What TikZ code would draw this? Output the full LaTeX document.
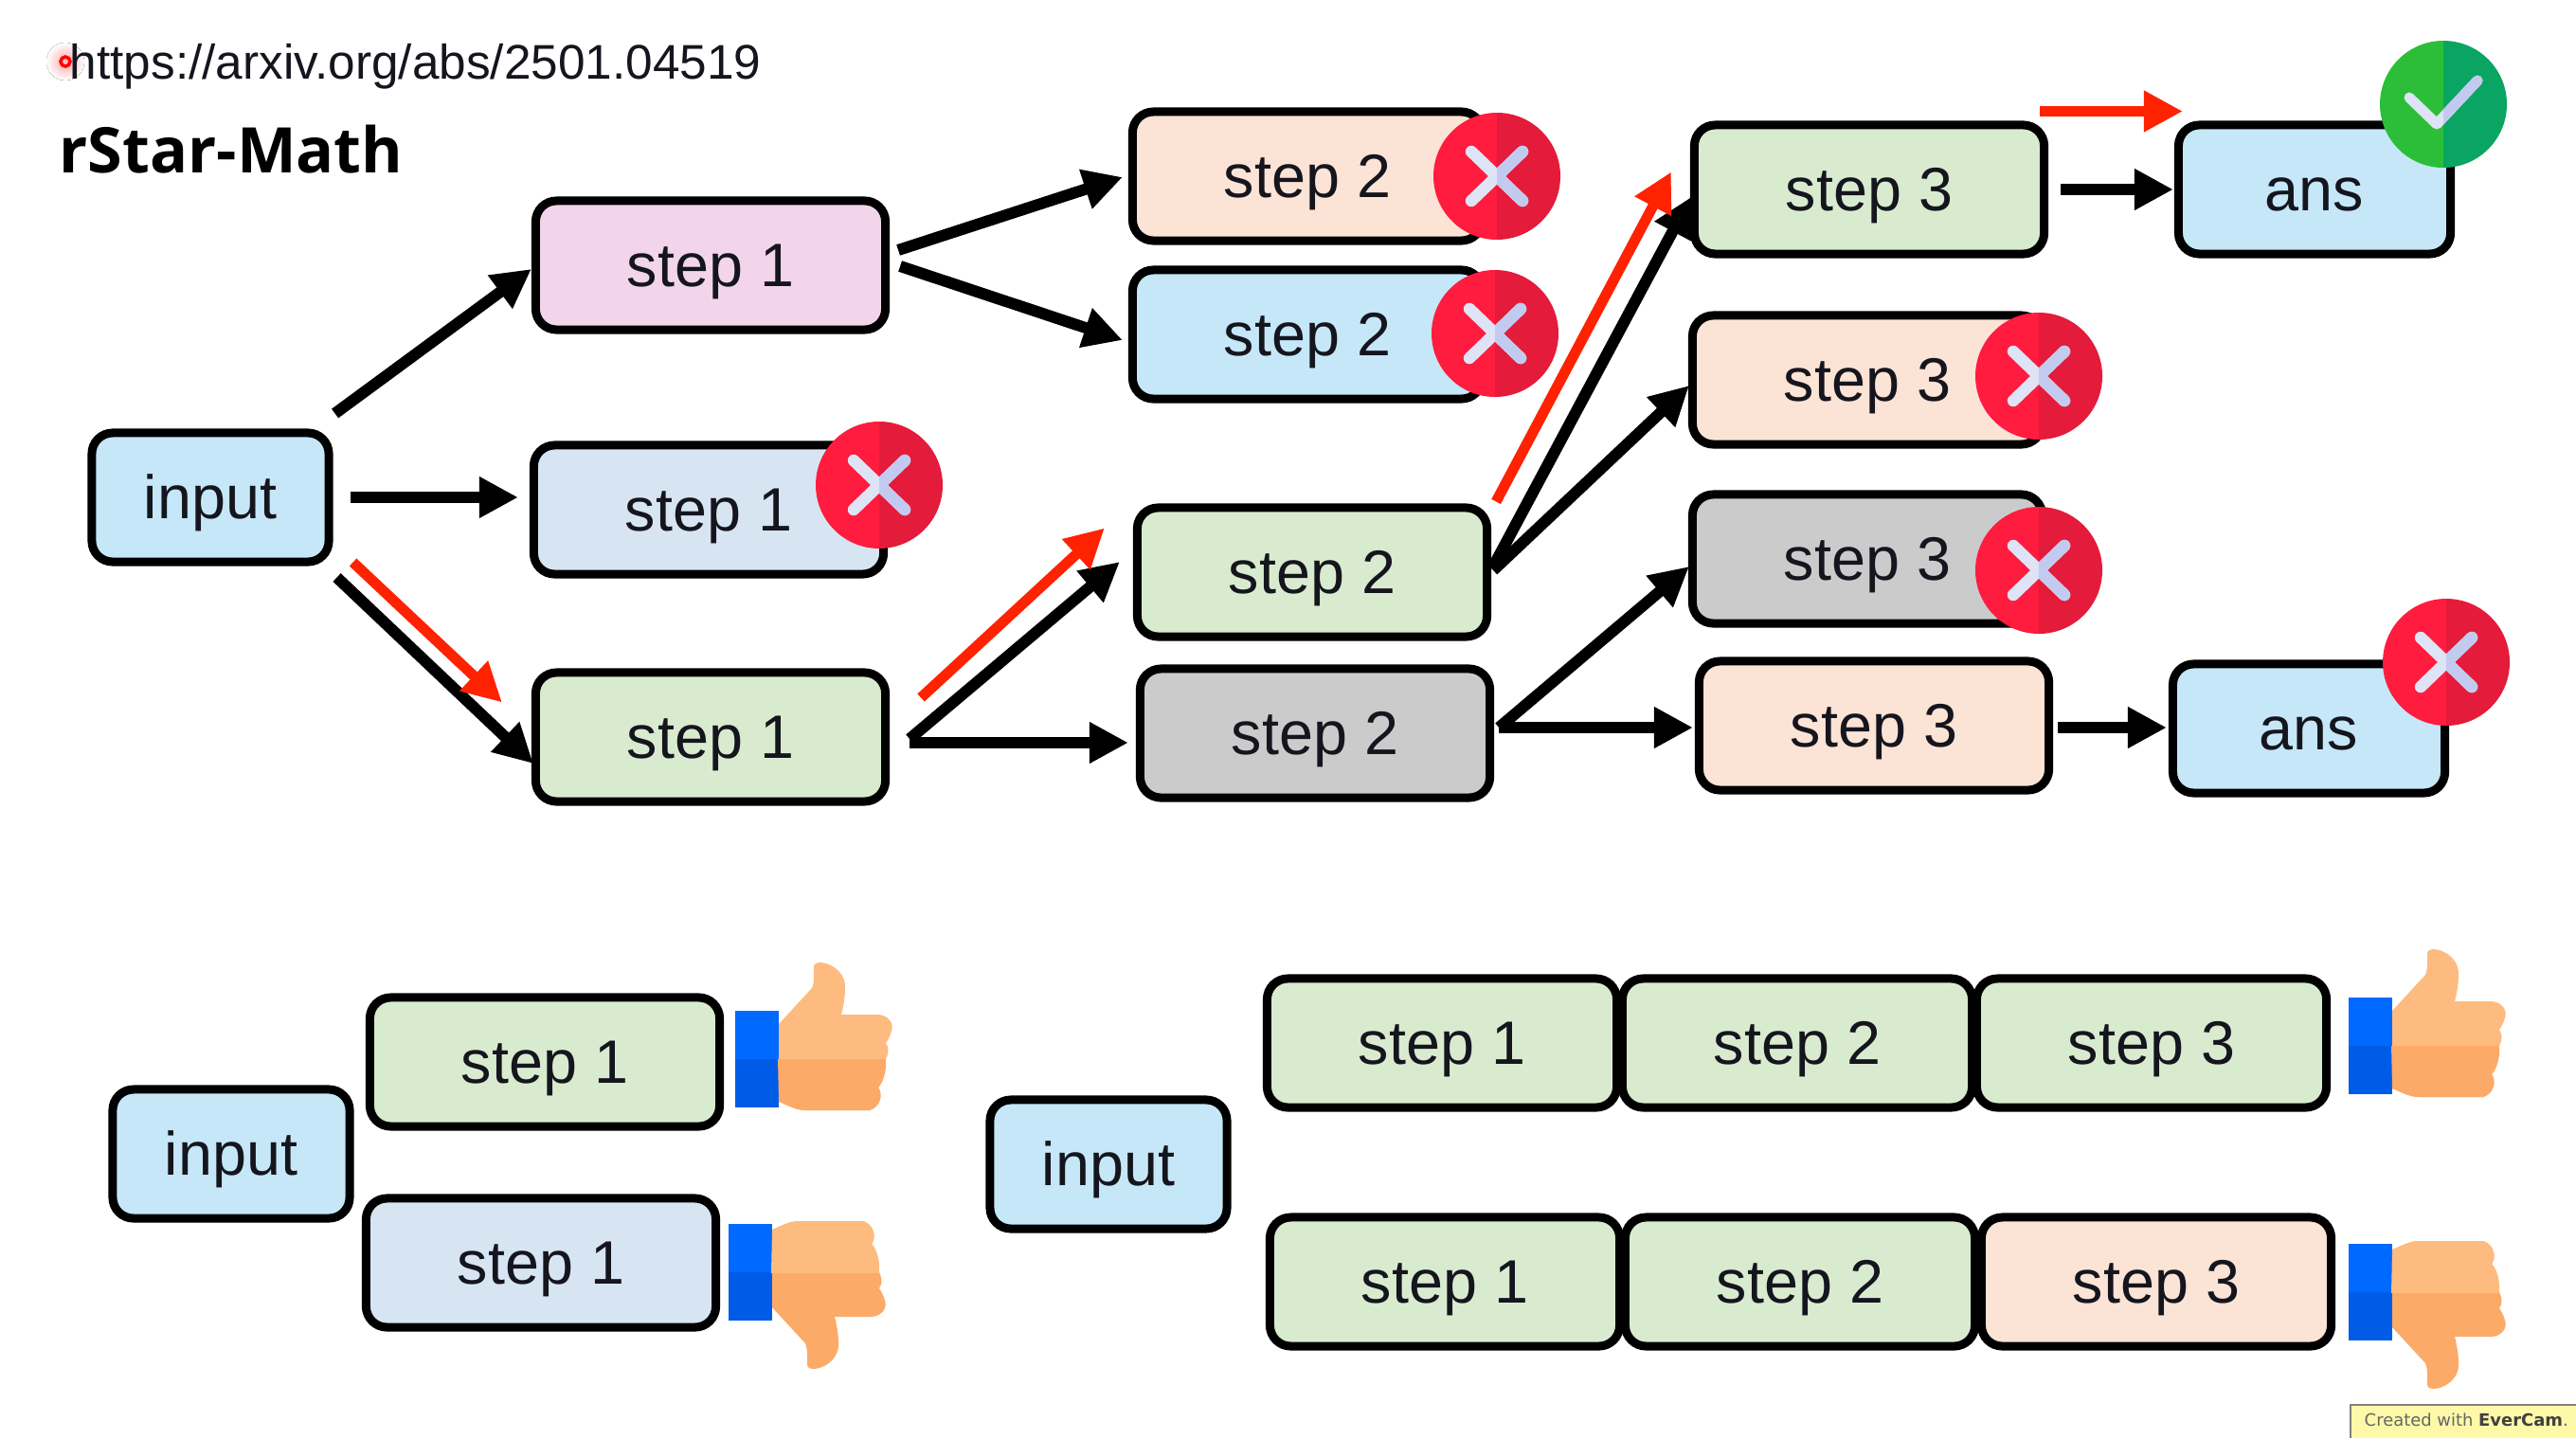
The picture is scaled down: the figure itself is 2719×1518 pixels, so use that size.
\documentclass[tikz,border=0pt]{standalone}
\usepackage{fontspec}
\setmainfont{Liberation Sans}
\newfontfamily\titlefont{Open Sans}
\newfontfamily\stampfont{DejaVu Sans}
\usetikzlibrary{arrows.meta}
\definecolor{inkc}{HTML}{15151E}
\definecolor{bluec}{HTML}{C5E7F8}
\definecolor{paleblue}{HTML}{D7E5F3}
\definecolor{pinkc}{HTML}{F2D5EB}
\definecolor{greenc}{HTML}{D8EBCF}
\definecolor{orangec}{HTML}{FBE3D5}
\definecolor{grayc}{HTML}{CBCBCB}
\definecolor{redarrow}{HTML}{FF2200}
\definecolor{handA}{HTML}{FDBB7F}
\definecolor{handB}{HTML}{FCAA68}
\definecolor{cuffA}{HTML}{0069FF}
\definecolor{cuffB}{HTML}{005CE6}
\definecolor{crossA}{HTML}{FF1C3E}
\definecolor{crossB}{HTML}{E41B3A}
\definecolor{tickA}{HTML}{2CBE38}
\definecolor{tickB}{HTML}{0AA562}
\definecolor{markA}{HTML}{DEE3F5}
\definecolor{markB}{HTML}{C3CAF0}
\definecolor{stampc}{HTML}{FDF9A8}
\newcommand\thumbparts[2]{
    \fill[cuff#1] (-46,-51) rectangle (0,0);
    \fill[cuff#2] (-46,0) rectangle (0,51);
    \fill[hand#1] (0,-37) -- (35,-75) .. controls (38,-82) and (37,-92) .. (37,-97) .. controls (37,-101) and (40,-102) .. (45,-102) .. controls (60,-100) and (71,-88) .. (70,-75) .. controls (70,-65) and (68,-55) .. (66,-47) -- (104,-47) .. controls (115,-47) and (122,-38) .. (119,-30) .. controls (118,-25) and (115,-20) .. (113,-17) .. controls (117,-12) and (116,-3) .. (110,5) .. controls (113,10) and (112,22) .. (105,30) .. controls (110,36) and (108,50) .. (96,54) -- (28,54) .. controls (18,54) and (8,48) .. (0,45) -- cycle;
    \begin{scope}
        \clip (-1,0) rectangle (130,60);
        \fill[hand#2] (-1,-1) -- (112,-1) .. controls (115,5) and (112,22) .. (105,30) .. controls (110,36) and (108,50) .. (96,54) -- (28,54) .. controls (18,54) and (8,48) .. (0,45) -- cycle;
    \end{scope}
}
\begin{document}
\begin{tikzpicture}[x=0.01cm, y=-0.01cm, >={Triangle[length=0.41cm, width=0.41cm]},
    box/.style={draw=black, line width=0.09cm, rounded corners=0.22cm, minimum height=1.36cm, text=inkc,
        text height=0.585cm, text depth=0.14cm, inner sep=0pt, font=\fontsize{18.4}{22}\selectfont},
    stepbox/.style={box, minimum width=3.69cm},
    inbox/.style={box, minimum width=2.5cm, fill=bluec},
    ansbox/.style={box, minimum width=2.87cm, fill=bluec},
    arrow/.style={->, line width=0.12cm, black},
    redline/.style={->, line width=0.11cm, redarrow},
    pics/crossbadge/.style={code={
        \fill[crossA] (0,-67) arc (-90:-270:67) -- cycle;
        \fill[crossB] (0,-67) arc (-90:90:67) -- cycle;
        \draw[line width=0.125cm, line cap=round, markA] (-27,-26) -- (27,26) (27,-26) -- (-27,26);
        \begin{scope}
            \clip (0,-40) rectangle (40,40);
            \draw[line width=0.125cm, line cap=round, markB] (-27,-26) -- (27,26) (27,-26) -- (-27,26);
        \end{scope}
    }},
    pics/tickbadge/.style={code={
        \fill[tickA] (0,-67) arc (-90:-270:67) -- cycle;
        \fill[tickB] (0,-67) arc (-90:90:67) -- cycle;
        \draw[line width=0.11cm, line cap=round, line join=round, markA] (-36,-7) -- (-7,21) -- (36,-25);
        \begin{scope}
            \clip (0,-40) rectangle (45,40);
            \draw[line width=0.11cm, line cap=round, line join=round, markB] (-36,-7) -- (-7,21) -- (36,-25);
        \end{scope}
    }},
    pics/thumbup/.style={code={\thumbparts{A}{B}}},
    pics/thumbdown/.style={code={\begin{scope}[yscale=-1]\thumbparts{B}{A}\end{scope}}}]
    \fill[white] (0,0) rectangle (2719,1518);
    \useasboundingbox (0,0) rectangle (2719,1518);

    \fill[inner color=red!35, outer color=white] (69,65) circle (20);
    \draw[red, line width=0.035cm, fill=red!25] (69,65) circle (5);
    \node[anchor=base west, inner sep=0pt, text=inkc, font=\fontsize{14.6}{18}\selectfont] (url) at (73,83) {https://arxiv.org/abs/2501.04519};
    \node[anchor=base west, inner sep=0pt, text=black, font=\titlefont\bfseries\fontsize{18.9}{22}\selectfont] (title) at (62,182) {rStar-Math};

    \node[inbox] (input) at (222,525) {input};
    \node[stepbox, fill=pinkc] (s1a) at (750,280) {step 1};
    \node[stepbox, fill=paleblue] (s1b) at (748,538) {step 1};
    \node[stepbox, fill=greenc] (s1c) at (750,778) {step 1};
    \node[stepbox, fill=orangec] (s2a) at (1380,186) {step 2};
    \node[stepbox, fill=bluec] (s2b) at (1380,353) {step 2};
    \node[stepbox, fill=greenc] (s2c) at (1385,604) {step 2};
    \node[stepbox, fill=grayc] (s2d) at (1388,774) {step 2};
    \node[stepbox, fill=greenc] (s3a) at (1973,200) {step 3};
    \node[stepbox, fill=orangec] (s3b) at (1971,401) {step 3};
    \node[stepbox, fill=grayc] (s3c) at (1971,590) {step 3};
    \node[stepbox, fill=orangec] (s3d) at (1978,766) {step 3};
    \node[ansbox] (ansa) at (2443,200) {ans};
    \node[ansbox] (ansb) at (2437,769) {ans};

    \draw[arrow] ([shift={(2,-16)}]input.north east) -- ([shift={(0,4)}]s1a.west);
    \draw[arrow] ([shift={(18,0)}]input.east) -- ([shift={(-12,-13)}]s1b.west);
    \draw[arrow] ([shift={(4,12)}]input.south east) -- ([shift={(2,28)}]s1c.west);
    \draw[arrow] ([shift={(9,-16)}]s1a.east) -- ([shift={(-6,1)}]s2a.west);
    \draw[arrow] ([shift={(11,1)}]s1a.east) -- ([shift={(-6,6)}]s2b.west);
    \draw[arrow] ([shift={(21,2)}]s1c.east) -- ([shift={(-14,-11)}]s2c.west);
    \draw[arrow] ([shift={(21,6)}]s1c.east) -- ([shift={(-8,10)}]s2d.west);
    \draw[arrow] ([shift={(2,-6)}]s2c.east) -- ([shift={(1,8)}]s3a.west);
    \draw[arrow] ([shift={(2,-2)}]s2c.east) -- ([shift={(1,6)}]s3b.west);
    \draw[arrow] ([shift={(5,-6)}]s2d.east) -- ([shift={(1,8)}]s3c.west);
    \draw[arrow] ([shift={(5,-6)}]s2d.east) -- ([shift={(-2,2)}]s3d.west);
    \draw[arrow] ([shift={(13,0)}]s3a.east) -- ([shift={(-1,0)}]ansa.west);
    \draw[arrow] ([shift={(5,2)}]s3d.east) -- ([shift={(-2,-1)}]ansb.west);
    \draw[redline] ([shift={(21,-4)}]input.south east) -- ([shift={(-31,36)}]s1c.north west);
    \draw[redline] ([shift={(33,31)}]s1c.north east) -- ([shift={(-30,26)}]s2c.north west);
    \draw[redline] ([shift={(5,-2)}]s2c.north east) -- ([shift={(-20,54)}]s3a.north west);
    \draw[redline] ([shift={(-9,-10)}]s3a.north east) -- ([shift={(9,-10)}]ansa.north west);

    \pic at (1580,186) {crossbadge};
    \pic at (1578,352) {crossbadge};
    \pic at (928,512) {crossbadge};
    \pic at (2152,397) {crossbadge};
    \pic at (2152,602) {crossbadge};
    \pic at (2582,699) {crossbadge};
    \pic at (2579,110) {tickbadge};

    \node[inbox] (input2) at (244,1218) {input};
    \node[stepbox, fill=greenc] (s1d) at (575,1121) {step 1};
    \node[stepbox, fill=paleblue] (s1e) at (571,1333) {step 1};
    \pic at (822,1118) {thumbup};
    \pic at (815,1343) {thumbdown};

    \node[inbox] (input3) at (1170,1229) {input};
    \node[stepbox, fill=greenc] (r1a) at (1522,1101) {step 1};
    \node[stepbox, fill=greenc] (r1b) at (1897,1101) {step 2};
    \node[stepbox, fill=greenc] (r1c) at (2271,1101) {step 3};
    \node[stepbox, fill=greenc] (r2a) at (1525,1353) {step 1};
    \node[stepbox, fill=greenc] (r2b) at (1900,1353) {step 2};
    \node[stepbox, fill=orangec] (r2c) at (2276,1353) {step 3};
    \pic at (2525,1104) {thumbup};
    \pic at (2525,1364) {thumbdown};

    \fill[stampc] (2481,1483) rectangle (2719,1518);
    \draw[gray, line width=0.025cm] (2481,1518) -- (2481,1483) -- (2719,1483);
    \node[anchor=base west, inner sep=0pt, text=black!60, font=\stampfont\fontsize{5.1}{7}\selectfont] (stamp) at (2495,1505) {Created with \textcolor{black!75}{\textbf{EverCam}}.};
\end{tikzpicture}
\end{document}
